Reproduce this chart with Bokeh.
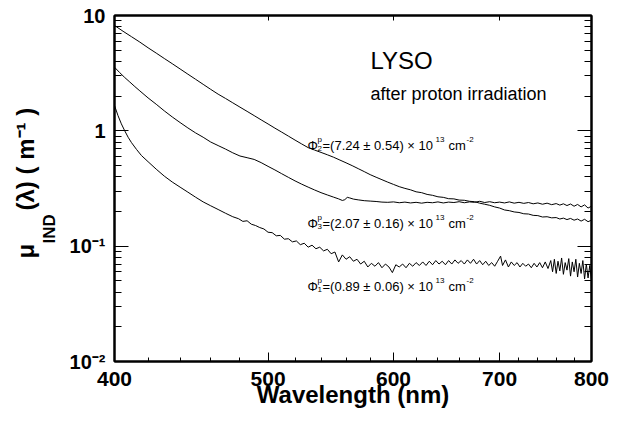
import math
from bokeh.plotting import figure
from bokeh.models import Label, FixedTicker, LogAxis, PrintfTickFormatter, CustomJSTickFormatter, Title
from bokeh.embed import file_html
from bokeh.resources import INLINE

# ---------------- data ----------------
wl_phi2 = [400, 405, 410, 415, 420, 425, 430, 435, 440, 445, 450, 455, 460, 465, 470, 475,
           480, 485, 490, 495, 500, 505, 510, 515, 520, 525, 530, 535, 540, 545, 550, 555,
           560, 565, 570, 575, 580, 585, 590, 595, 600, 605, 610, 615, 620, 625, 630, 635,
           640, 645, 650, 655, 660, 665, 670, 675, 680, 685, 690, 695, 700, 705, 710, 715,
           720, 725, 730, 735, 740, 745, 750, 755, 760, 764, 768, 772, 776, 780, 784, 788,
           792, 796, 800]
mu_phi2 = [8.20, 7.30, 6.55, 5.88, 5.25, 4.72, 4.24, 3.82, 3.44, 3.10, 2.80, 2.53, 2.29, 2.08,
           1.91, 1.75, 1.605, 1.475, 1.355, 1.245, 1.147, 1.055, 0.975, 0.900, 0.831, 0.770,
           0.715, 0.681, 0.650, 0.620, 0.590, 0.558, 0.528, 0.499, 0.470, 0.443, 0.417, 0.396,
           0.377, 0.359, 0.343, 0.328, 0.317, 0.308, 0.296, 0.291, 0.281, 0.276, 0.268, 0.265,
           0.258, 0.257, 0.251, 0.250, 0.245, 0.243, 0.236, 0.231, 0.226, 0.219, 0.214, 0.206,
           0.203, 0.198, 0.196, 0.191, 0.190, 0.185, 0.184, 0.179, 0.180, 0.176, 0.177, 0.172,
           0.175, 0.170, 0.174, 0.168, 0.172, 0.165, 0.171, 0.163, 0.168]

wl_phi3 = [400, 403, 406, 409, 412, 415, 420, 425, 430, 435, 440, 445, 450, 455, 460, 465,
           470, 475, 480, 485, 490, 495, 500, 505, 510, 515, 520, 525, 530, 535, 540, 545,
           550, 554, 557, 559, 561, 563, 566, 570, 575, 580, 585, 590, 595, 600, 605, 610,
           615, 620, 625, 630, 635, 640, 645, 650, 655, 660, 665, 670, 675, 680, 685, 690,
           695, 700, 705, 710, 715, 720, 725, 730, 735, 740, 745, 750, 755, 760, 764, 768,
           772, 776, 780, 784, 788, 792, 796, 800]
mu_phi3 = [3.56, 3.20, 2.90, 2.65, 2.42, 2.22, 1.93, 1.70, 1.49, 1.32, 1.18, 1.06, 0.96, 0.88,
           0.80, 0.745, 0.695, 0.645, 0.605, 0.585, 0.565, 0.530, 0.492, 0.458, 0.425, 0.395,
           0.368, 0.345, 0.325, 0.307, 0.291, 0.278, 0.266, 0.257, 0.249, 0.253, 0.265, 0.262,
           0.256, 0.252, 0.248, 0.246, 0.244, 0.241, 0.240, 0.242, 0.238, 0.241, 0.237, 0.240,
           0.236, 0.240, 0.238, 0.242, 0.237, 0.241, 0.239, 0.243, 0.238, 0.242, 0.240, 0.245,
           0.239, 0.243, 0.238, 0.241, 0.237, 0.242, 0.236, 0.240, 0.235, 0.239, 0.233, 0.237,
           0.231, 0.236, 0.229, 0.234, 0.227, 0.233, 0.225, 0.232, 0.222, 0.230, 0.219, 0.228,
           0.214, 0.222]

wl_phi1 = [400, 402, 404, 406, 408, 410, 413, 416, 420, 425, 430, 435, 440, 445, 450, 455,
           460, 465, 470, 475, 479, 482, 485, 488, 491, 494, 497, 500, 503, 506, 509, 512,
           515, 518, 521, 524, 527, 530, 533, 536, 539, 542, 545, 548, 551, 554, 557, 560,
           563, 566, 569, 572, 575, 578, 581, 584, 587, 590, 593, 596, 599, 602, 605, 608,
           611, 614, 617, 620, 623, 626, 629, 632, 635, 638, 641, 644, 647, 650, 653, 656,
           659, 662, 665, 668, 671, 674, 677, 680, 683, 686, 689, 692, 695, 698, 701, 703,
           706, 709, 712, 715, 718, 721, 724, 727, 730, 733, 736, 739, 742, 745, 748, 751,
           754, 756, 758, 760, 762, 764, 766, 768, 770, 772, 774, 776, 778, 780, 782, 784,
           786, 788, 790, 792, 794, 796, 798, 800]
mu_phi1 = [1.66, 1.36, 1.15, 1.00, 0.88, 0.79, 0.69, 0.61, 0.54, 0.465, 0.405, 0.360, 0.325,
           0.294, 0.266, 0.242, 0.224, 0.208, 0.193, 0.180, 0.173, 0.164, 0.166, 0.155, 0.151,
           0.145, 0.141, 0.132, 0.131, 0.123, 0.124, 0.115, 0.116, 0.109, 0.111, 0.103, 0.106,
           0.098, 0.102, 0.095, 0.098, 0.091, 0.094, 0.086, 0.089, 0.073, 0.084, 0.077, 0.081,
           0.074, 0.077, 0.070, 0.074, 0.066, 0.071, 0.067, 0.072, 0.065, 0.070, 0.066, 0.059,
           0.069, 0.066, 0.070, 0.065, 0.071, 0.067, 0.072, 0.068, 0.073, 0.068, 0.074, 0.069,
           0.075, 0.070, 0.074, 0.069, 0.075, 0.070, 0.076, 0.071, 0.075, 0.070, 0.076, 0.071,
           0.077, 0.070, 0.075, 0.069, 0.074, 0.068, 0.072, 0.067, 0.074, 0.082, 0.068, 0.076,
           0.066, 0.073, 0.068, 0.072, 0.066, 0.071, 0.067, 0.070, 0.065, 0.071, 0.066, 0.072,
           0.065, 0.073, 0.064, 0.075, 0.060, 0.077, 0.058, 0.074, 0.061, 0.079, 0.057, 0.072,
           0.062, 0.078, 0.055, 0.073, 0.060, 0.077, 0.054, 0.071, 0.058, 0.075, 0.052, 0.070,
           0.053, 0.068, 0.050]

x_ticks = [400, 500, 600, 700, 800]
x_minor = [420, 440, 460, 480, 520, 540, 560, 580, 620, 640, 660, 680, 720, 740, 760, 780]
y_ticks = [0.01, 0.1, 1, 10]
y_minor = [k * d for d in (0.01, 0.1, 1) for k in range(2, 10)]
y_tick_text = {0.01: "10\u207b\u00b2", 0.1: "10\u207b\u00b9", 1: "1", 10: "10"}

# ---------------- geometry ----------------
W, H = 633, 423
BL, BR, BT, BB = 114, 42, 15, 62
X0, X1 = 400.0, 800.0
Y0, Y1 = 0.01, 10.0
FX0 = BL
FW = W - BL - BR
FY0 = BT
FH = H - BT - BB
FONT = "Liberation Sans"
NB = "\u00a0"


def wl(px):
    return X0 * (X1 / X0) ** ((px - FX0) / FW)


def val(py):
    return 10 ** (math.log10(Y1) - (py - FY0) / FH * (math.log10(Y1) - math.log10(Y0)))


p = figure(width=W, height=H, x_axis_type="log", y_axis_type="log",
           x_range=(X0, X1), y_range=(Y0, Y1), output_backend="svg",
           toolbar_location=None, min_border_left=BL, min_border_right=BR,
           min_border_top=BT, min_border_bottom=BB)
p.grid.visible = False
p.outline_line_color = "black"
p.outline_line_width = 2
p.background_fill_color = "white"
p.border_fill_color = "white"

for wls, mus in ((wl_phi2, mu_phi2), (wl_phi3, mu_phi3), (wl_phi1, mu_phi1)):
    p.line(wls, mus, line_color="black", line_width=1)

# bottom axis
xa = p.xaxis[0]
xa.ticker = FixedTicker(ticks=x_ticks, minor_ticks=x_minor)
xa.formatter = PrintfTickFormatter(format="%d")
xa.major_label_text_font = FONT
xa.major_label_text_font_style = "bold"
xa.major_label_text_font_size = "21px"
xa.major_label_text_color = "black"
xa.major_label_standoff = 10
xa.major_tick_in, xa.major_tick_out = 9, 0
xa.minor_tick_in, xa.minor_tick_out = 4, 0
xa.axis_line_width = 2
xa.major_tick_line_width = 1
xa.minor_tick_line_width = 1
xa.axis_label = "Wavelength (nm)"
xa.axis_label_text_font = FONT
xa.axis_label_text_font_style = "bold"
xa.axis_label_text_font_size = "24px"
xa.axis_label_text_color = "black"
xa.axis_label_standoff = -8

# left axis
ya = p.yaxis[0]
ya.ticker = FixedTicker(ticks=y_ticks, minor_ticks=y_minor)
ya.major_label_overrides = y_tick_text
ya.major_label_text_font = FONT
ya.major_label_text_font_style = "bold"
ya.major_label_text_font_size = "20px"
ya.major_label_text_color = "black"
ya.major_label_standoff = 9
ya.major_tick_in, ya.major_tick_out = 14, 0
ya.minor_tick_in, ya.minor_tick_out = 7, 0
ya.axis_line_width = 2
ya.major_tick_line_width = 1
ya.minor_tick_line_width = 1

# y axis title, built from a subscript row and a main row
t_ind = Title(text="IND", align="left", offset=118, standoff=16, text_font=FONT,
              text_font_size="17px", text_font_style="bold", text_color="black")
t_main = Title(text="\u03bc" + NB * 5 + "(\u03bb) ( m\u207b\u00b9 )", align="left", offset=103,
               standoff=-18, text_font=FONT, text_font_size="24px", text_font_style="bold",
               text_color="black")
p.add_layout(t_ind, "left")
p.add_layout(t_main, "left")

# top axis
top = LogAxis(ticker=FixedTicker(ticks=x_ticks, minor_ticks=[]), formatter=CustomJSTickFormatter(code="return ''"),
              major_tick_in=5, major_tick_out=0, minor_tick_in=0, minor_tick_out=0,
              major_label_standoff=0, axis_line_width=2, major_tick_line_width=1)
p.add_layout(top, "above")
# right axis
right = LogAxis(ticker=FixedTicker(ticks=y_ticks, minor_ticks=y_minor), formatter=CustomJSTickFormatter(code="return ''"),
                major_tick_in=14, major_tick_out=0, minor_tick_in=7, minor_tick_out=0,
                major_label_standoff=0, axis_line_width=2, major_tick_line_width=1,
                minor_tick_line_width=1)
p.add_layout(right, "right")


def txt(x, y, s, size, bold=False, align="left", xo=0, yo=0):
    p.add_layout(Label(x=x, y=y, text=s, text_font=FONT, text_font_size=f"{size}px",
                       text_font_style="bold" if bold else "normal", text_align=align,
                       text_baseline="alphabetic", text_color="black",
                       x_offset=xo, y_offset=yo))


# annotations
txt(wl(370), val(60), "LYSO", 24)
txt(wl(370), val(93), "after proton irradiation", 18)


def phi_label(px, py, idx, body):
    x, y = wl(px), val(py)
    txt(x, y, "\u03a6", 13)
    txt(x, y, "p", 8, xo=10, yo=6)
    txt(x, y, idx, 8, xo=10, yo=-3)
    txt(x, y, body, 13, xo=15)
    txt(x, y, "13", 8, xo=128, yo=6)
    txt(x, y, "cm", 13, xo=141)
    txt(x, y, "-2", 8, xo=159, yo=6)


phi_label(307, 145, "2", "=(7.24 \u00b1 0.54) \u00d7 10")
phi_label(307, 223, "3", "=(2.07 \u00b1 0.16) \u00d7 10")
phi_label(307, 286, "1", "=(0.89 \u00b1 0.06) \u00d7 10")

open("out.html", "w").write(file_html(p, INLINE))
